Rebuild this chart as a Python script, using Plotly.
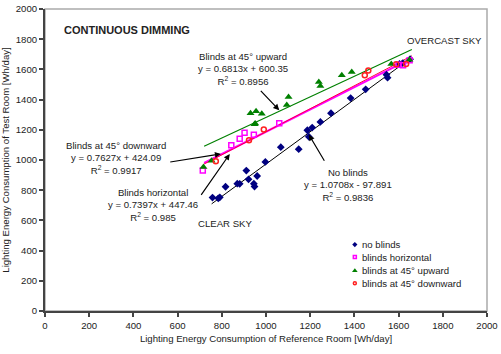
import plotly.graph_objects as go

# ---------------- data ----------------
nb_x = [758, 784, 791, 817, 870, 881, 911, 921, 945, 948, 960, 997, 1067, 1148, 1187, 1194, 1209, 1246, 1294, 1383, 1451, 1545, 1550, 1604, 1619, 1652]
nb_y = [751, 746, 753, 823, 843, 842, 930, 872, 843, 824, 894, 987, 1085, 1072, 1197, 1154, 1215, 1252, 1310, 1410, 1468, 1565, 1545, 1636, 1642, 1668]

hz_x = [714, 843, 881, 903, 945, 1060, 1600, 1620, 1650]
hz_y = [931, 1097, 1140, 1180, 1168, 1243, 1630, 1627, 1660]

up_x = [717, 754, 930, 948, 951, 955, 981, 1094, 1102, 1239, 1246, 1343, 1388, 1567, 1649]
up_y = [953, 995, 1310, 1236, 1241, 1323, 1306, 1364, 1418, 1516, 1490, 1562, 1582, 1636, 1664]

dn_x = [773, 923, 990, 1447, 1463, 1589, 1634]
dn_y = [991, 1130, 1202, 1562, 1592, 1634, 1636]

fit_range_x = [720, 1660]
nb_range_x = [754, 1660]
nb_fit = (1.0708, -97.891)
hz_fit = (0.7397, 447.46)
up_fit = (0.6813, 600.35)
dn_fit = (0.7627, 424.09)

series_names = ["no blinds", "blinds horizontal", "blinds at 45° upward", "blinds at 45° downward"]

x_ticks = [0, 200, 400, 600, 800, 1000, 1200, 1400, 1600, 1800, 2000]
y_ticks = [0, 200, 400, 600, 800, 1000, 1200, 1400, 1600, 1800, 2000]

FONT = "Liberation Sans, Arial, sans-serif"
TXT = "#222222"
FS = 9.6

markers = [
    dict(symbol="diamond", size=6, color="#000080"),
    dict(symbol="square-open", size=5, color="#FF00FF", line=dict(width=1.5, color="#FF00FF")),
    dict(symbol="triangle-up", size=7, color="#008000"),
    dict(symbol="circle-open", size=5, color="#FF2020", line=dict(width=1.5, color="#FF2020")),
]

fig = go.Figure()

def fit_line(rng, coef, color, width):
    xs = list(rng)
    ys = [coef[0] * v + coef[1] for v in xs]
    fig.add_trace(go.Scatter(x=xs, y=ys, mode="lines", line=dict(color=color, width=width),
                             showlegend=False, hoverinfo="skip"))

fit_line(nb_range_x, nb_fit, "#000000", 1)
fit_line(fit_range_x, up_fit, "#008000", 1.2)
fit_line(fit_range_x, hz_fit, "#FF00FF", 2)
fit_line(fit_range_x, dn_fit, "#FF0040", 1)

for (xs, ys), name, mk in zip([(nb_x, nb_y), (hz_x, hz_y), (up_x, up_y), (dn_x, dn_y)], series_names, markers):
    fig.add_trace(go.Scatter(x=xs, y=ys, mode="markers", name=name, marker=mk, showlegend=False))

# compact legend drawn on an overlay axis (0..1 in both directions)
leg_x = 0.701
leg_text_x = 0.713
leg_y = [0.220, 0.1786, 0.133, 0.092]
for name, mk, ly in zip(series_names, markers, leg_y):
    m = dict(mk)
    m["size"] = max(3, m["size"] - 2)
    fig.add_trace(go.Scatter(x=[leg_x], y=[ly], mode="markers", marker=m, xaxis="x2", yaxis="y2",
                             showlegend=False, hoverinfo="skip", name=name))

ann = []
for name, ly in zip(series_names, leg_y):
    ann.append(dict(x=leg_text_x, y=ly, xref="x2", yref="y2", text=name, showarrow=False,
                    xanchor="left", yanchor="middle",
                    font=dict(family=FONT, size=FS, color=TXT)))

def text(x, y, t, size=FS, bold=False, xanchor="center"):
    ann.append(dict(x=x, y=y, xref="x", yref="y", text=("<b>%s</b>" % t) if bold else t,
                    showarrow=False, xanchor=xanchor, yanchor="middle",
                    font=dict(family=FONT, size=size, color=TXT)))

def arrow(tx, ty, hx, hy):
    ann.append(dict(x=hx, y=hy, ax=tx, ay=ty, xref="x", yref="y", axref="x", ayref="y",
                    text="", showarrow=True, arrowhead=2, arrowsize=1, arrowwidth=1.2,
                    arrowcolor="#000000"))

text(896, 1602, "Blinds at 45° upward<br>y = 0.6813x + 600.35<br>R<sup>2</sup> = 0.8956")
text(323, 1016, "Blinds at 45° downward<br>y = 0.7627x + 424.09<br>R<sup>2</sup> = 0.9917")
text(489, 703, "Blinds horizontal<br>y = 0.7397x + 447.46<br>R<sup>2</sup> = 0.985")
text(1370, 833, "No blinds<br>y = 1.0708x - 97.891<br>R<sup>2</sup> = 0.9836")
text(815, 577, "CLEAR SKY")
text(1808, 1794, "OVERCAST SKY")
text(77, 1863, "CONTINUOUS DIMMING", size=11, bold=True, xanchor="left")

arrow(970, 1468, 1060, 1330)
arrow(560, 985, 796, 1040)
arrow(702, 759, 836, 1040)
arrow(1268, 985, 1194, 1168)

fig.update_layout(
    width=501, height=354,
    margin=dict(l=45, r=9, t=3, b=43),
    paper_bgcolor="white", plot_bgcolor="white",
    font=dict(family=FONT, size=FS, color=TXT),
    showlegend=False,
    annotations=ann,
    shapes=[dict(type="rect", xref="paper", yref="paper", x0=0, y0=0, x1=1, y1=1,
                 line=dict(color="#AAAAAA", width=1.5), layer="below")],
    xaxis=dict(range=[0, 2000], tickvals=x_ticks, showgrid=False, zeroline=False,
               showline=True, linecolor="#444444", linewidth=2, ticks="outside",
               ticklen=4, tickcolor="#444444", tickwidth=1.5, ticklabeloverflow="allow",
               tickfont=dict(family=FONT, size=FS, color=TXT),
               title=dict(text="Lighting Energy Consumption of Reference Room [Wh/day]",
                          font=dict(family=FONT, size=FS, color=TXT), standoff=6)),
    yaxis=dict(range=[0, 2000], tickvals=y_ticks, showgrid=False, zeroline=False,
               showline=True, linecolor="#444444", linewidth=2, ticks="outside",
               ticklen=4, tickcolor="#444444", tickwidth=1.5, ticklabeloverflow="allow",
               tickfont=dict(family=FONT, size=FS, color=TXT),
               title=dict(text="Lighting Energy Consumption of Test Room [Wh/day]",
                          font=dict(family=FONT, size=FS, color=TXT), standoff=4)),
    xaxis2=dict(overlaying="x", range=[0, 1], visible=False, fixedrange=True),
    yaxis2=dict(overlaying="y", range=[0, 1], visible=False, fixedrange=True),
)

fig.write_html("out.html")
